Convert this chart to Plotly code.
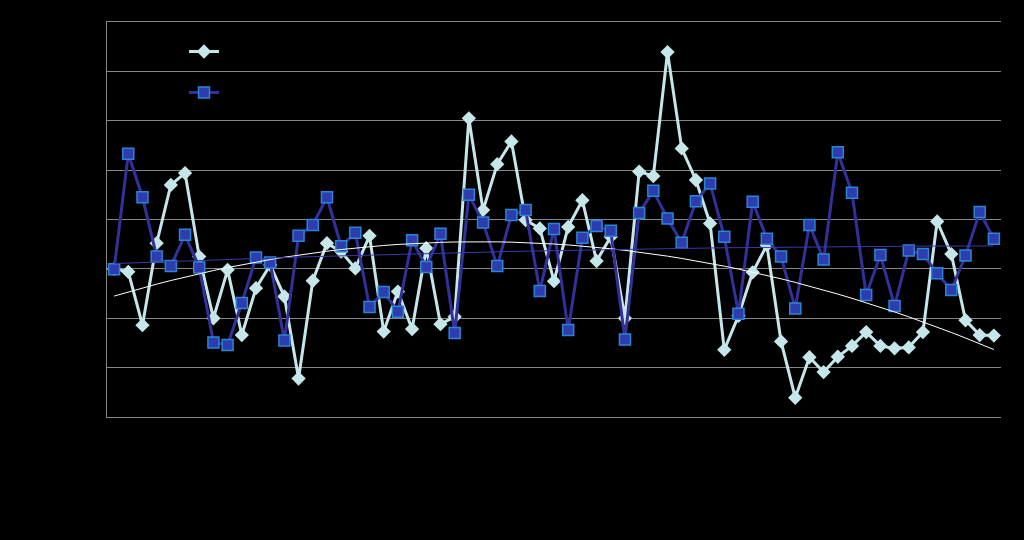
import numpy as np
import plotly.graph_objects as go

# Data (unlabeled axis units 0-8)
categories = list(range(1, 64))
series_diamond = [3.00, 2.94, 1.86, 3.52, 4.70, 4.94, 3.25, 2.00, 2.98, 1.66,
                  2.61, 3.08, 2.44, 0.78, 2.76, 3.52, 3.35, 3.01, 3.67, 1.73,
                  2.54, 1.78, 3.42, 1.88, 2.03, 6.05, 4.19, 5.12, 5.58, 3.99,
                  3.82, 2.75, 3.85, 4.39, 3.16, 3.65, 2.00, 4.97, 4.88, 7.39,
                  5.44, 4.80, 3.92, 1.36, 2.05, 2.93, 3.48, 1.53, 0.39, 1.21,
                  0.91, 1.22, 1.44, 1.72, 1.44, 1.39, 1.41, 1.72, 3.96, 3.30,
                  1.96, 1.66, 1.65]
series_square = [2.99, 5.33, 4.45, 3.25, 3.06, 3.69, 3.03, 1.51, 1.46, 2.31,
                 3.23, 3.13, 1.55, 3.67, 3.89, 4.45, 3.46, 3.73, 2.23, 2.53,
                 2.13, 3.58, 3.04, 3.71, 1.70, 4.50, 3.94, 3.06, 4.09, 4.19,
                 2.55, 3.81, 1.76, 3.63, 3.87, 3.77, 1.57, 4.13, 4.58, 4.02,
                 3.53, 4.37, 4.73, 3.65, 2.09, 4.36, 3.61, 3.25, 2.20, 3.89,
                 3.19, 5.36, 4.54, 2.47, 3.28, 2.25, 3.37, 3.30, 2.91, 2.57,
                 3.27, 4.15, 3.61]
series_names = ["Series 1", "Series 2"]

x = np.array(categories, dtype=float)
trend_d = np.polyval(np.polyfit(x, series_diamond, 2), x)
trend_s = np.polyval(np.polyfit(x, series_square, 2), x)

LIGHT = "#c6e7ea"
DARK = "#33309a"

fig = go.Figure()
fig.add_trace(go.Scatter(
    x=categories, y=series_diamond, name=series_names[0], mode="lines+markers",
    line=dict(color=LIGHT, width=3),
    marker=dict(symbol="diamond", size=11, color=LIGHT),
    legendgroup="a"))
fig.add_trace(go.Scatter(
    x=categories, y=series_square, name=series_names[1], mode="lines+markers",
    line=dict(color=DARK, width=3),
    marker=dict(symbol="square", size=11, color="#2d3db0",
                line=dict(color="#2a86d4", width=1.5)),
    legendgroup="b"))
fig.add_trace(go.Scatter(
    x=categories, y=trend_d, mode="lines", showlegend=False,
    line=dict(color="#ffffff", width=1), hoverinfo="skip"))
fig.add_trace(go.Scatter(
    x=categories, y=trend_s, mode="lines", showlegend=False,
    line=dict(color="#3a3aa8", width=1), hoverinfo="skip"))

fig.update_layout(
    width=1024, height=540,
    paper_bgcolor="#000000", plot_bgcolor="#000000",
    margin=dict(l=107, r=23, t=22, b=123),
    font=dict(family="Liberation Sans", color="#000000", size=12),
    legend=dict(x=(184 - 107) / 894, y=1 - (37 - 22) / 395, xanchor="left", yanchor="top",
                bgcolor="rgba(0,0,0,0)", tracegroupgap=22, traceorder="grouped",
                font=dict(color="#000000", size=12)),
    xaxis=dict(range=[0.5, 63.5], showgrid=False, zeroline=False,
               showline=True, mirror=True, linecolor="#868686", linewidth=1,
               showticklabels=False, ticks=""),
    yaxis=dict(range=[0, 8], dtick=1, showgrid=True, gridcolor="#868686", gridwidth=1,
               zeroline=False, showline=True, linecolor="#868686", linewidth=1,
               showticklabels=False, ticks=""),
)

fig.write_html("out.html", config={"displayModeBar": False},
               post_script="document.body.style.margin='0';document.body.style.background='#000';")
